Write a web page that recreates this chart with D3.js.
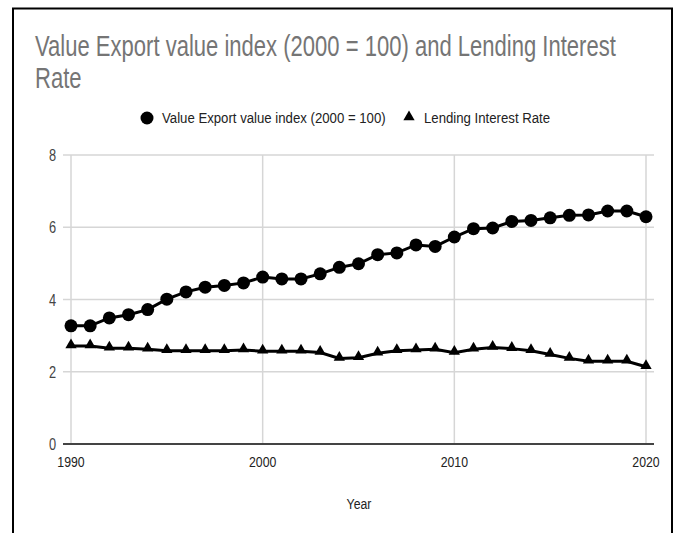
<!DOCTYPE html>
<html><head><meta charset="utf-8">
<script src="https://cdn.jsdelivr.net/npm/d3@7"></script>
<style>body{margin:0;background:#fff;}svg{display:block;font-family:"Liberation Sans",Arial,sans-serif;}</style>
</head><body>
<script>
const years = d3.range(1990, 2021);
const exportIndex = [3.27,3.27,3.49,3.58,3.72,4.01,4.21,4.34,4.39,4.46,4.62,4.57,4.57,4.71,4.89,4.99,5.24,5.29,5.51,5.47,5.73,5.96,5.98,6.16,6.19,6.26,6.33,6.34,6.45,6.45,6.29];
const lendingRate = [2.71,2.71,2.65,2.65,2.62,2.58,2.58,2.58,2.58,2.60,2.57,2.57,2.57,2.53,2.37,2.39,2.51,2.58,2.60,2.62,2.53,2.62,2.67,2.64,2.58,2.48,2.37,2.29,2.29,2.29,2.14];
const yTicks = [0,2,4,6,8];
const xTicks = [1990,2000,2010,2020];
const seriesNames = ["Value Export value index (2000 = 100)","Lending Interest Rate"];
const titleLines = ["Value Export value index (2000 = 100) and Lending Interest","Rate"];

const W=678,H=533;
const SX=0.76; // horizontal squeeze of the reference's text
const svg=d3.select("body").append("svg").attr("width",W).attr("height",H);
svg.append("rect").attr("x",13).attr("y",8.5).attr("width",659).attr("height",H).attr("fill","#fff").attr("stroke","#000").attr("stroke-width",2);

const x=d3.scaleLinear().domain([1990,2020]).range([71,646]);
const y=d3.scaleLinear().domain([0,8]).range([444,155]);

function sq(sel,px,py,s){return sel.attr("transform",`translate(${px},${py}) scale(${s},1)`);}

// title
svg.append("g").selectAll("text").data(titleLines).join("text")
  .each(function(d,i){sq(d3.select(this),35,56+i*32,SX);})
  .attr("fill","#757575").style("font-size","29px").text(d=>d);

// grid
const g=svg.append("g");
g.selectAll(".hg").data(yTicks).join("line").attr("x1",63).attr("x2",654)
  .attr("y1",d=>y(d)).attr("y2",d=>y(d)).attr("stroke","#d6d6d6").attr("stroke-width",1.5);
g.selectAll(".vg").data(xTicks).join("line").attr("y1",155).attr("y2",444)
  .attr("x1",d=>x(d)).attr("x2",d=>x(d)).attr("stroke","#d6d6d6").attr("stroke-width",1.5);
g.append("line").attr("x1",63).attr("x2",654).attr("y1",y(0)).attr("y2",y(0)).attr("stroke","#444").attr("stroke-width",2);

// y axis labels
g.selectAll(".yl").data(yTicks).join("text").each(function(d){sq(d3.select(this),56,y(d)+6,0.8);})
  .attr("text-anchor","end").attr("fill","#444").style("font-size","16px").text(d=>d);
// x axis labels
g.selectAll(".xl").data(xTicks).join("text").each(function(d){sq(d3.select(this),x(d),467,0.82);})
  .attr("text-anchor","middle").attr("fill","#222").style("font-size","15px").text(d=>d);
sq(svg.append("text"),359,509,0.82).attr("text-anchor","middle").attr("fill","#222").style("font-size","15px").text("Year");

// lines
const line1=d3.line().x((d,i)=>x(years[i])).y(d=>y(d));
svg.append("path").datum(exportIndex).attr("d",line1).attr("fill","none").attr("stroke","#000").attr("stroke-width",3);
svg.append("path").datum(lendingRate).attr("d",line1).attr("fill","none").attr("stroke","#000").attr("stroke-width",3);
svg.append("g").selectAll("circle").data(exportIndex).join("circle")
  .attr("cx",(d,i)=>x(years[i])).attr("cy",d=>y(d)).attr("r",6.5).attr("fill","#000");
const tri=d3.symbol().type(d3.symbolTriangle).size(55);
svg.append("g").selectAll("path").data(lendingRate).join("path")
  .attr("d",tri).attr("transform",(d,i)=>`translate(${x(years[i])},${y(d)-1})`).attr("fill","#000");

// legend
const leg=svg.append("g");
leg.append("circle").attr("cx",147).attr("cy",118).attr("r",6.5).attr("fill","#000");
sq(leg.append("text"),162,123,0.88).attr("fill","#222").style("font-size","15px").text(seriesNames[0]);
leg.append("path").attr("d",d3.symbol().type(d3.symbolTriangle).size(55)).attr("transform","translate(409,117)").attr("fill","#000");
sq(leg.append("text"),424,123,0.88).attr("fill","#222").style("font-size","15px").text(seriesNames[1]);
</script>
</body></html>
